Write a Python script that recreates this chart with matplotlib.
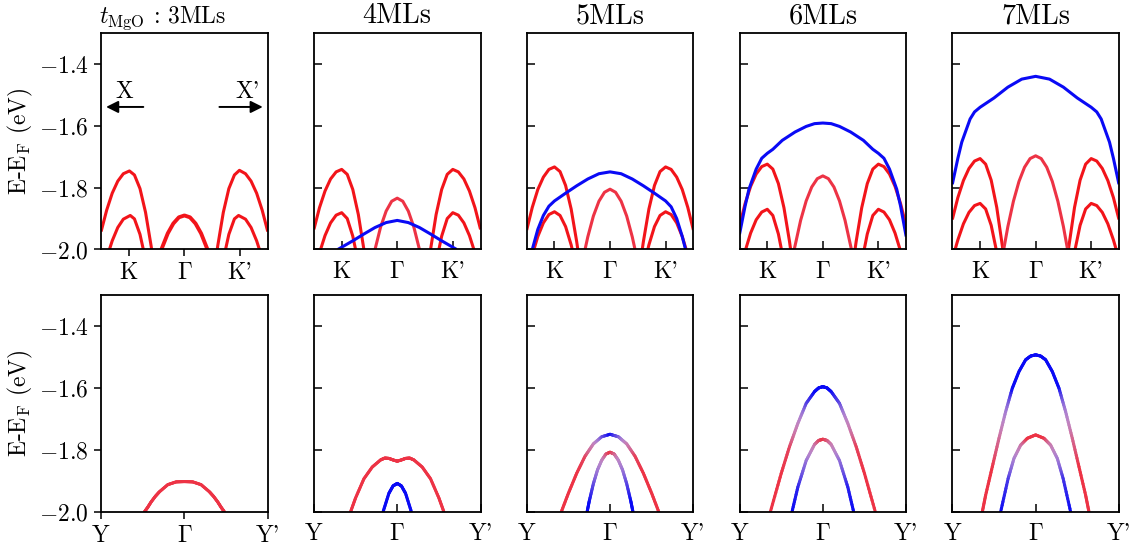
import numpy as np
import matplotlib
matplotlib.use("Agg")
import matplotlib.pyplot as plt
from matplotlib.collections import LineCollection

plt.rcParams['font.family'] = 'serif'
plt.rcParams['font.serif'] = ['cmr10']
plt.rcParams['mathtext.fontset'] = 'cm'
plt.rcParams['axes.formatter.use_mathtext'] = True
plt.rcParams['font.size'] = 17

# ---- data: (k, E-E_F) pairs, K=-1, Gamma=0, K'=1 ----
titles = ["3MLs", "4MLs", "5MLs", "6MLs", "7MLs"]
k_ticks = [-1, 0, 1]
k_labels = ["K", r"$\Gamma$", "K'"]
y_labels = ["Y", r"$\Gamma$", "Y'"]
e_ticks = [-2.0, -1.8, -1.6, -1.4]

# red bands around K and K' (outer, inner, outer', inner')
kband_3 = [
    [(-1.5, -1.942), (-1.4, -1.873), (-1.3, -1.818), (-1.2, -1.779), (-1.1, -1.755), (-0.99, -1.746),
     (-0.9, -1.759), (-0.8, -1.803), (-0.7, -1.880), (-0.6, -1.988), (-0.59, -2.0)],
    [(-1.35, -2.0), (-1.3, -1.972), (-1.2, -1.929), (-1.1, -1.902), (-0.975, -1.89), (-0.9, -1.901),
     (-0.8, -1.951), (-0.74, -2.0)],
    [(0.59, -2.0), (0.6, -1.988), (0.7, -1.880), (0.8, -1.803), (0.9, -1.759), (0.99, -1.744),
     (1.1, -1.755), (1.2, -1.779), (1.3, -1.818), (1.4, -1.873), (1.5, -1.942)],
    [(0.74, -2.0), (0.8, -1.951), (0.9, -1.901), (0.975, -1.89), (1.1, -1.902), (1.2, -1.929),
     (1.3, -1.972), (1.35, -2.0)],
]
kband_4 = [
    [(-1.5, -1.935), (-1.4, -1.865), (-1.3, -1.811), (-1.2, -1.772), (-1.1, -1.749), (-1.0, -1.741),
     (-0.9, -1.757), (-0.8, -1.806), (-0.7, -1.887), (-0.6, -2.0)],
    [(-1.38, -2.0), (-1.3, -1.955), (-1.2, -1.914), (-1.1, -1.889), (-1.0, -1.881), (-0.9, -1.900),
     (-0.8, -1.957), (-0.75, -2.0)],
    [(0.6, -2.0), (0.7, -1.887), (0.8, -1.806), (0.9, -1.757), (1.0, -1.741), (1.1, -1.749),
     (1.2, -1.772), (1.3, -1.811), (1.4, -1.865), (1.5, -1.935)],
    [(0.75, -2.0), (0.8, -1.957), (0.9, -1.900), (1.0, -1.881), (1.1, -1.889), (1.2, -1.914),
     (1.3, -1.955), (1.38, -2.0)],
]
kband_5 = [
    [(-1.5, -1.937), (-1.4, -1.864), (-1.3, -1.806), (-1.2, -1.766), (-1.1, -1.741), (-1.0, -1.733),
     (-0.9, -1.748), (-0.8, -1.793), (-0.7, -1.869), (-0.6, -1.975), (-0.58, -2.0)],
    [(-1.37, -2.0), (-1.3, -1.958), (-1.2, -1.914), (-1.1, -1.887), (-1.0, -1.878), (-0.9, -1.890),
     (-0.8, -1.926), (-0.7, -1.985), (-0.68, -2.0)],
    [(0.58, -2.0), (0.6, -1.975), (0.7, -1.869), (0.8, -1.793), (0.9, -1.748), (1.0, -1.733),
     (1.1, -1.741), (1.2, -1.766), (1.3, -1.806), (1.4, -1.864), (1.5, -1.937)],
    [(0.68, -2.0), (0.7, -1.985), (0.8, -1.926), (0.9, -1.890), (1.0, -1.878), (1.1, -1.887),
     (1.2, -1.914), (1.3, -1.958), (1.37, -2.0)],
]
kband_6 = [
    [(-1.5, -1.924), (-1.4, -1.852), (-1.3, -1.796), (-1.2, -1.756), (-1.1, -1.732), (-1.0, -1.724),
     (-0.9, -1.740), (-0.8, -1.787), (-0.7, -1.865), (-0.6, -1.974), (-0.58, -2.0)],
    [(-1.39, -2.0), (-1.3, -1.947), (-1.2, -1.904), (-1.1, -1.879), (-1.0, -1.870), (-0.9, -1.890),
     (-0.8, -1.950), (-0.745, -2.0)],
    [(0.58, -2.0), (0.6, -1.974), (0.7, -1.865), (0.8, -1.787), (0.9, -1.740), (1.0, -1.724),
     (1.1, -1.732), (1.2, -1.756), (1.3, -1.796), (1.4, -1.852), (1.5, -1.924)],
    [(0.745, -2.0), (0.8, -1.950), (0.9, -1.890), (1.0, -1.870), (1.1, -1.879), (1.2, -1.904),
     (1.3, -1.947), (1.39, -2.0)],
]
kband_7 = [
    [(-1.5, -1.903), (-1.4, -1.832), (-1.3, -1.777), (-1.2, -1.738), (-1.1, -1.714), (-1.0, -1.706),
     (-0.9, -1.724), (-0.8, -1.776), (-0.7, -1.864), (-0.59, -2.0)],
    [(-1.45, -2.0), (-1.4, -1.969), (-1.3, -1.917), (-1.2, -1.880), (-1.1, -1.858), (-1.0, -1.851),
     (-0.9, -1.869), (-0.8, -1.922), (-0.71, -2.0)],
    [(0.59, -2.0), (0.7, -1.864), (0.8, -1.776), (0.9, -1.724), (1.0, -1.706), (1.1, -1.714),
     (1.2, -1.738), (1.3, -1.777), (1.4, -1.832), (1.5, -1.903)],
    [(0.71, -2.0), (0.8, -1.922), (0.9, -1.869), (1.0, -1.851), (1.1, -1.858), (1.2, -1.880),
     (1.3, -1.917), (1.4, -1.969), (1.45, -2.0)],
]

# red band around Gamma
gband_3 = [(-0.415, -2.0), (-0.3, -1.948), (-0.2, -1.916), (-0.1, -1.896), (0.0, -1.89),
           (0.1, -1.896), (0.2, -1.916), (0.3, -1.948), (0.415, -2.0)]
gband_4 = [(-0.4, -2.0), (-0.3, -1.928), (-0.2, -1.876), (-0.1, -1.844), (0.0, -1.834),
           (0.1, -1.844), (0.2, -1.876), (0.3, -1.928), (0.4, -2.0)]
gband_5 = [(-0.45, -2.0), (-0.4, -1.959), (-0.3, -1.892), (-0.2, -1.844), (-0.1, -1.815), (0.0, -1.805),
           (0.1, -1.815), (0.2, -1.844), (0.3, -1.892), (0.4, -1.959), (0.45, -2.0)]
gband_6 = [(-0.515, -2.0), (-0.4, -1.906), (-0.3, -1.843), (-0.2, -1.798), (-0.1, -1.771), (0.0, -1.762),
           (0.1, -1.771), (0.2, -1.798), (0.3, -1.843), (0.4, -1.906), (0.515, -2.0)]
gband_7 = [(-0.575, -2.0), (-0.5, -1.926), (-0.4, -1.844), (-0.3, -1.780), (-0.2, -1.734), (-0.1, -1.706),
           (0.0, -1.697), (0.1, -1.706), (0.2, -1.734), (0.3, -1.780), (0.4, -1.844), (0.5, -1.926),
           (0.575, -2.0)]

# blue band
bband_3 = []
bband_4 = [(-1.07, -2.0), (-0.8, -1.972), (-0.6, -1.950), (-0.4, -1.929), (-0.2, -1.913), (0.0, -1.906),
           (0.2, -1.913), (0.4, -1.929), (0.6, -1.950), (0.8, -1.972), (1.07, -2.0)]
bband_5 = [(-1.40, -2.0), (-1.3, -1.935), (-1.2, -1.89), (-1.1, -1.86), (-1.0, -1.843), (-0.8, -1.818),
           (-0.6, -1.794), (-0.4, -1.772), (-0.2, -1.755), (0.0, -1.749), (0.2, -1.755), (0.4, -1.772),
           (0.6, -1.794), (0.8, -1.818), (1.0, -1.843), (1.1, -1.862), (1.2, -1.9), (1.3, -1.958),
           (1.36, -2.0)]
bband_6 = [(-1.5, -1.951), (-1.4, -1.86), (-1.33, -1.805), (-1.2, -1.74), (-1.1, -1.705), (-1.0, -1.689),
           (-0.9, -1.676), (-0.73, -1.647), (-0.5, -1.62), (-0.3, -1.602), (-0.15, -1.593), (0.0, -1.591),
           (0.15, -1.593), (0.3, -1.602), (0.5, -1.62), (0.73, -1.647), (0.9, -1.676), (1.0, -1.689),
           (1.1, -1.705), (1.2, -1.74), (1.33, -1.805), (1.4, -1.86), (1.5, -1.958)]
bband_7 = [(-1.5, -1.789), (-1.4, -1.705), (-1.33, -1.653), (-1.18, -1.578), (-1.1, -1.555), (-1.0, -1.540),
           (-0.75, -1.51), (-0.5, -1.475), (-0.25, -1.449), (0.0, -1.440), (0.25, -1.449), (0.5, -1.475),
           (0.75, -1.51), (1.0, -1.540), (1.1, -1.555), (1.18, -1.578), (1.33, -1.653), (1.4, -1.705),
           (1.5, -1.789)]

# Y-Gamma-Y' cut (Y=-1, Y'=1); weight 0 = red, 1 = blue
yband_3 = [[(-0.48, -2.0), (-0.44, -1.985), (-0.4, -1.968), (-0.35, -1.95), (-0.3, -1.935), (-0.2, -1.912),
            (-0.1, -1.903), (0.0, -1.902), (0.1, -1.903), (0.2, -1.912), (0.3, -1.935), (0.35, -1.95),
            (0.4, -1.968), (0.44, -1.985), (0.48, -2.0)]]
yw_3 = [[0] * 15]

yband_4 = [[(-0.56, -2.0), (-0.5, -1.955), (-0.4, -1.893), (-0.3, -1.855), (-0.2, -1.832), (-0.15, -1.826),
            (-0.1, -1.827), (-0.05, -1.832), (0.0, -1.836), (0.05, -1.832), (0.1, -1.827), (0.15, -1.826),
            (0.2, -1.832), (0.3, -1.855), (0.4, -1.893), (0.5, -1.955), (0.56, -2.0)],
           [(-0.17, -2.0), (-0.1, -1.940), (-0.05, -1.916), (0.0, -1.908), (0.05, -1.916), (0.1, -1.940),
            (0.17, -2.0)]]
yw_4 = [[0] * 17, [1] * 7]

yband_5 = [[(-0.585, -2.0), (-0.5, -1.94), (-0.4, -1.875), (-0.3, -1.82), (-0.2, -1.78), (-0.1, -1.757),
            (0.0, -1.749), (0.1, -1.757), (0.2, -1.78), (0.3, -1.82), (0.4, -1.875), (0.5, -1.94),
            (0.585, -2.0)],
           [(-0.275, -2.0), (-0.25, -1.966), (-0.2, -1.909), (-0.15, -1.864), (-0.1, -1.833), (-0.05, -1.813),
            (0.0, -1.807), (0.05, -1.813), (0.1, -1.833), (0.15, -1.864), (0.2, -1.909), (0.25, -1.966),
            (0.275, -2.0)]]
yw_5 = [[0, 0, 0, 0.05, 0.35, 0.8, 1, 0.8, 0.35, 0.05, 0, 0, 0],
        [1, 1, 0.85, 0.65, 0.45, 0.15, 0, 0.15, 0.45, 0.65, 0.85, 1, 1]]

yband_6 = [[(-0.63, -2.0), (-0.5, -1.876), (-0.4, -1.789), (-0.3, -1.714), (-0.2, -1.649), (-0.1, -1.611),
            (-0.05, -1.599), (0.0, -1.595), (0.05, -1.599), (0.1, -1.611), (0.2, -1.649), (0.3, -1.714),
            (0.4, -1.789), (0.5, -1.876), (0.63, -2.0)],
           [(-0.37, -2.0), (-0.3, -1.92), (-0.2, -1.834), (-0.1, -1.782), (-0.05, -1.769), (0.0, -1.765),
            (0.05, -1.769), (0.1, -1.782), (0.2, -1.834), (0.3, -1.92), (0.37, -2.0)]]
yw_6 = [[0, 0, 0.05, 0.4, 0.85, 1, 1, 1, 1, 1, 0.85, 0.4, 0.05, 0, 0],
        [1, 0.95, 0.7, 0.3, 0.1, 0, 0.1, 0.3, 0.7, 0.95, 1]]

yband_7 = [[(-0.64, -2.0), (-0.6, -1.946), (-0.52, -1.854), (-0.44, -1.762), (-0.36, -1.676), (-0.28, -1.60),
            (-0.2, -1.546), (-0.12, -1.508), (-0.06, -1.496), (0.0, -1.492), (0.06, -1.496), (0.12, -1.508),
            (0.2, -1.546), (0.28, -1.60), (0.36, -1.676), (0.44, -1.762), (0.52, -1.854), (0.6, -1.946),
            (0.64, -2.0)],
           [(-0.42, -2.0), (-0.33, -1.892), (-0.26, -1.827), (-0.18, -1.784), (-0.1, -1.762), (0.0, -1.751),
            (0.1, -1.762), (0.18, -1.784), (0.26, -1.827), (0.33, -1.892), (0.42, -2.0)]]
yw_7 = [[0, 0, 0, 0.2, 0.6, 1, 1, 1, 1, 1, 1, 1, 1, 1, 0.6, 0.2, 0, 0, 0],
        [1, 0.9, 0.6, 0.3, 0, 0, 0, 0.3, 0.6, 0.9, 1]]

RED = np.array([0.95, 0.08, 0.10])
PINK = np.array([0.93, 0.20, 0.27])
BLUE = np.array([0.04, 0.04, 0.96])
LW = 2.2


def mix(w):
    c = (1 - w) * PINK + w * BLUE
    return c + (1 - c) * 0.45 * 4 * w * (1 - w)


def plain(ax, pts, color, lw=LW):
    if not pts:
        return
    x, e = np.array(pts).T
    ax.plot(x, e, color=color, lw=lw, solid_capstyle='butt')


def graded(ax, pts, w, lw=LW, nsub=10):
    x, e = np.array(pts).T
    w = np.array(w, dtype=float)
    segs, cols = [], []
    for i in range(len(x) - 1):
        t = np.linspace(0, 1, nsub + 1)
        xs = x[i] + (x[i + 1] - x[i]) * t
        es = e[i] + (e[i + 1] - e[i]) * t
        ws = w[i] + (w[i + 1] - w[i]) * t
        for j in range(nsub):
            segs.append([(xs[j], es[j]), (xs[j + 1], es[j + 1])])
            cols.append(mix((ws[j] + ws[j + 1]) / 2))
    ax.add_collection(LineCollection(segs, colors=cols, lw=lw, capstyle='round'))


top_k = [kband_3, kband_4, kband_5, kband_6, kband_7]
top_g = [gband_3, gband_4, gband_5, gband_6, gband_7]
top_b = [bband_3, bband_4, bband_5, bband_6, bband_7]
bot_bands = [yband_3, yband_4, yband_5, yband_6, yband_7]
bot_w = [yw_3, yw_4, yw_5, yw_6, yw_7]

fig = plt.figure(figsize=(11.36, 5.51), dpi=100)
gs = fig.add_gridspec(2, 5, left=0.089, right=0.985, top=0.940, bottom=0.071,
                      wspace=0.277, hspace=0.2125)

for col in range(5):
    for row in range(2):
        ax = fig.add_subplot(gs[row, col])
        for s in ax.spines.values():
            s.set_linewidth(1.3)
        if row == 0:
            for band in top_k[col]:
                plain(ax, band, RED)
            plain(ax, top_g[col], RED if col == 0 else PINK, lw=2.8 if col == 0 else LW)
            plain(ax, top_b[col], BLUE)
            ax.set_xlim(-1.5, 1.5)
            ax.set_xticks(k_ticks)
            ax.set_xticklabels(k_labels)
        else:
            for band, w in zip(bot_bands[col], bot_w[col]):
                graded(ax, band, w)
            ax.set_xlim(-1, 1)
            ax.set_xticks(k_ticks)
            ax.set_xticklabels(y_labels)
        ax.set_ylim(-2.0, -1.3)
        ax.set_yticks(e_ticks)
        if col == 0:
            ax.tick_params(direction='out', length=5, width=1.1, pad=4)
            ax.set_ylabel(r'E-E$_{\rm F}$ (eV)', labelpad=3)
        else:
            ax.tick_params(direction='in', length=6, width=1.1)
            ax.tick_params(axis='x', pad=8)
            ax.tick_params(axis='y', labelleft=False)
        if row == 0:
            if col == 0:
                ax.text(0.37, 1.046, r"$t_{\rm MgO}$ : 3MLs", transform=ax.transAxes,
                        ha='center', va='baseline')
                ax.annotate('', xy=(-1.46, -1.539), xytext=(-0.69, -1.539),
                            arrowprops=dict(arrowstyle='-|>', color='k', lw=1.4, mutation_scale=18))
                ax.annotate('', xy=(1.46, -1.539), xytext=(0.58, -1.539),
                            arrowprops=dict(arrowstyle='-|>', color='k', lw=1.4, mutation_scale=18))
                ax.text(-1.09, -1.49, 'X', ha='center', va='center')
                ax.text(1.14, -1.49, "X'", ha='center', va='center')
            else:
                ax.set_title(titles[col], pad=7)

fig.savefig('out.png', dpi=100)
